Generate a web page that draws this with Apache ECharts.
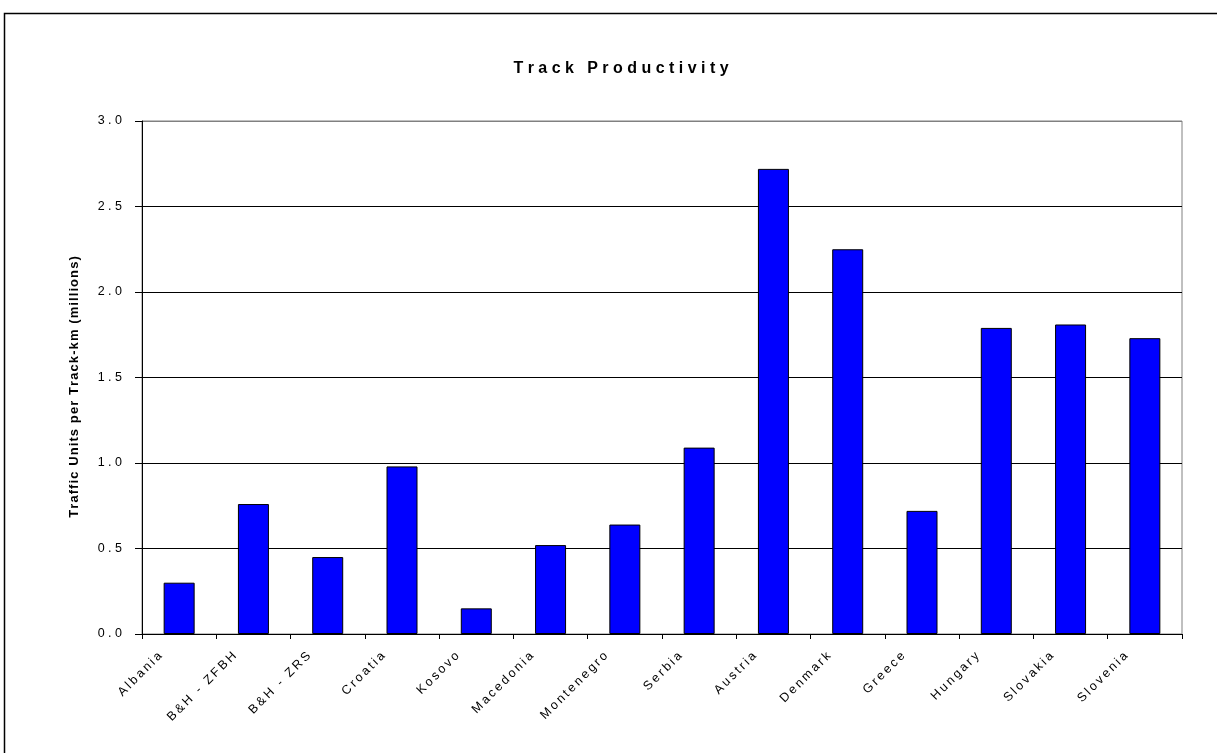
<!DOCTYPE html>
<html>
<head>
<meta charset="utf-8">
<script src="https://cdn.jsdelivr.net/npm/echarts@6/dist/echarts.min.js"></script>
<style>
  html, body { margin: 0; padding: 0; background: #fff; }
  #chart { width: 1217px; height: 753px; }
</style>
</head>
<body>
<div id="chart"></div>
<script>
// Rail network track productivity by country
const countries = ['Albania', 'B&H - ZFBH', 'B&H - ZRS', 'Croatia', 'Kosovo', 'Macedonia',
  'Montenegro', 'Serbia', 'Austria', 'Denmark', 'Greece', 'Hungary', 'Slovakia', 'Slovenia'];
const trafficUnitsPerTrackKm = [0.30, 0.76, 0.45, 0.98, 0.15, 0.52, 0.64, 1.09, 2.72, 2.25, 0.72, 1.79, 1.81, 1.73];
const yTicks = { min: 0, max: 3, interval: 0.5 };
const chartTitle = 'Track Productivity';
const yTitle = 'Traffic Units per Track-km (millions)';

const font = '"Liberation Sans", Arial, sans-serif';
// widen the lettering by putting a small space between characters
const spaced = (s, gap) => s.split('').join(gap);
const THIN = '\u2009', HAIR = '\u200A';

const chart = echarts.init(document.getElementById('chart'), null, { renderer: 'canvas' });

// top split line (at max) is grey like the plot frame, the rest black
const gridLineColors = [];
for (let v = yTicks.min; v <= yTicks.max + 1e-9; v += yTicks.interval) {
  gridLineColors.push(Math.abs(v - yTicks.max) < 1e-9 ? '#808080' : '#000');
}

chart.setOption({
  animation: false,
  backgroundColor: '#fff',
  title: {
    text: spaced(chartTitle, ' '),
    left: 616, top: 56, textAlign: 'center',
    textStyle: { fontFamily: font, fontSize: 16, fontWeight: 'bold', color: '#000' }
  },
  graphic: [{
    type: 'rect', silent: true,
    shape: { x: 4.5, y: 13.5, width: 1230, height: 760 },
    style: { fill: 'none', stroke: '#000', lineWidth: 1.5 }
  }, {
    type: 'text', silent: true,
    x: 74, y: 387, rotation: Math.PI / 2,
    style: {
      text: spaced(yTitle, HAIR),
      fontFamily: font, fontSize: 13, fontWeight: 'bold', fill: '#000',
      align: 'center', verticalAlign: 'middle'
    }
  }],
  grid: {
    left: 142, right: 35, top: 121, bottom: 119,
    show: true, borderColor: '#808080', borderWidth: 1, backgroundColor: '#fff'
  },
  xAxis: {
    type: 'category',
    data: countries,
    boundaryGap: true,
    axisLine: { lineStyle: { color: '#000', width: 1 } },
    axisTick: { show: true, length: 5, lineStyle: { color: '#000' } },
    axisLabel: {
      interval: 0, rotate: 45, margin: 1,
      padding: [0, 27, 0, 0],
      fontFamily: font, fontSize: 12.5, color: '#000',
      formatter: v => spaced(v, THIN)
    }
  },
  yAxis: {
    type: 'value',
    min: yTicks.min, max: yTicks.max, interval: yTicks.interval,
    axisLine: { show: true, lineStyle: { color: '#000', width: 1 } },
    axisTick: { show: true, length: 7, lineStyle: { color: '#000' } },
    splitLine: { show: true, lineStyle: { color: gridLineColors, width: 1 } },
    axisLabel: {
      margin: 20, fontFamily: font, fontSize: 12.5, color: '#000',
      formatter: v => spaced(v.toFixed(1), ' ')
    }
  },
  series: [{
    type: 'bar',
    data: trafficUnitsPerTrackKm,
    barWidth: 31,
    itemStyle: { color: '#0000ff', borderColor: '#000', borderWidth: 1 }
  }]
});
</script>
</body>
</html>
